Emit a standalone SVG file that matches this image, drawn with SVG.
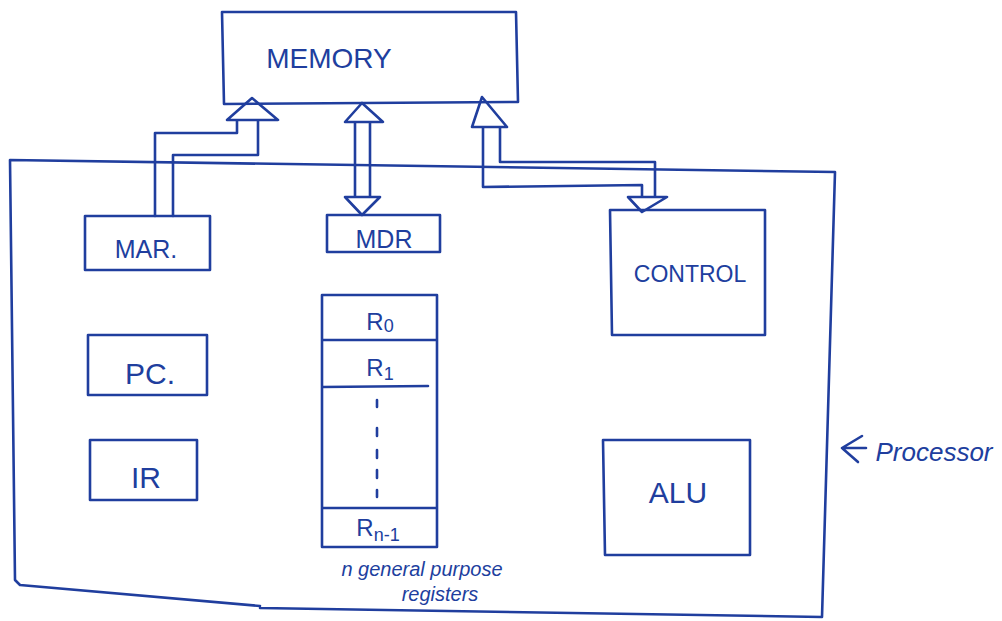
<svg xmlns="http://www.w3.org/2000/svg" width="1002" height="621" viewBox="0 0 1002 621">
<style>
.s{fill:none;stroke:#203e9e;stroke-width:2.6;stroke-linecap:round;stroke-linejoin:round}
.t{font-family:"Liberation Sans",Arial,sans-serif;fill:#203e9e;text-anchor:middle}
</style>
<rect width="1002" height="621" fill="#ffffff"/>
<g id="processor">
<path class="s" d="M10,160 L835,172 L822,617 L260,608 M10,160 L15,580 L20,585 L260,606"/>
<path class="s" d="M862,436 L842,448 L858,462 M842,448 L866,448"/>
<text class="t" x="934" y="461" font-size="26" font-style="italic">Processor</text>
</g>
<g id="memory">
<path class="s" d="M222,12 L516,12 L518,102 L224,104 Z"/>
<text class="t" x="329" y="68" font-size="28">MEMORY</text>
</g>
<g id="mar">
<path class="s" d="M85,216 L210,216 L210,270 L85,270 Z"/>
<text class="t" x="146" y="258" font-size="25">MAR.</text>
</g>
<g id="pc">
<path class="s" d="M88,335 L207,335 L207,395 L88,395 Z"/>
<text class="t" x="150" y="384" font-size="30">PC.</text>
</g>
<g id="ir">
<path class="s" d="M90,440 L197,440 L197,500 L90,500 Z"/>
<text class="t" x="146" y="488" font-size="30">IR</text>
</g>
<g id="mdr">
<path class="s" d="M327,215 L440,215 L440,252 L327,252 Z"/>
<text class="t" x="384" y="248" font-size="25">MDR</text>
</g>
<g id="registers">
<path class="s" d="M322,295 L437,295 L437,547 L322,547 Z M322,340 L437,340 M322,387 L428,386 M322,508 L437,508"/>
<text class="t" x="380" y="330" font-size="24">R<tspan font-size="18" dy="2">0</tspan></text>
<text class="t" x="380" y="376" font-size="24">R<tspan font-size="18" dy="4">1</tspan></text>
<path class="s" d="M377,400 L377,407 M377,428 L377,436 M377,450 L377,458 M377,470 L377,478 M377,490 L377,497"/>
<text class="t" x="378" y="536" font-size="24">R<tspan font-size="18" dy="5">n-1</tspan></text>
<text class="t" x="422" y="576" font-size="20" font-style="italic">n general purpose</text>
<text class="t" x="440" y="601" font-size="20" font-style="italic">registers</text>
</g>
<g id="control">
<path class="s" d="M610,210 L765,210 L765,335 L612,335 Z"/>
<text class="t" x="690" y="282" font-size="23">CONTROL</text>
</g>
<g id="alu">
<path class="s" d="M603,440 L750,440 L750,555 L605,555 Z"/>
<text class="t" x="678" y="503" font-size="30">ALU</text>
</g>
<g id="connectors">
<path class="s" d="M155,216 L155,133 L237,133 L237,120 M173,216 L173,155 L258,155 L258,120 M227,120 L252,98 L278,120 Z"/>
<path class="s" d="M355,122 L355,197 M370,122 L370,197 M345,122 L362,103 L383,122 Z M345,197 L362,215 L380,197 Z"/>
<path class="s" d="M483,127 L483,187 L642,185 L642,197 M500,127 L500,162 L655,162 L655,197 M472,127 L482,97 L507,127 Z M628,197 L642,212 L667,197 Z"/>
</g>
</svg>
